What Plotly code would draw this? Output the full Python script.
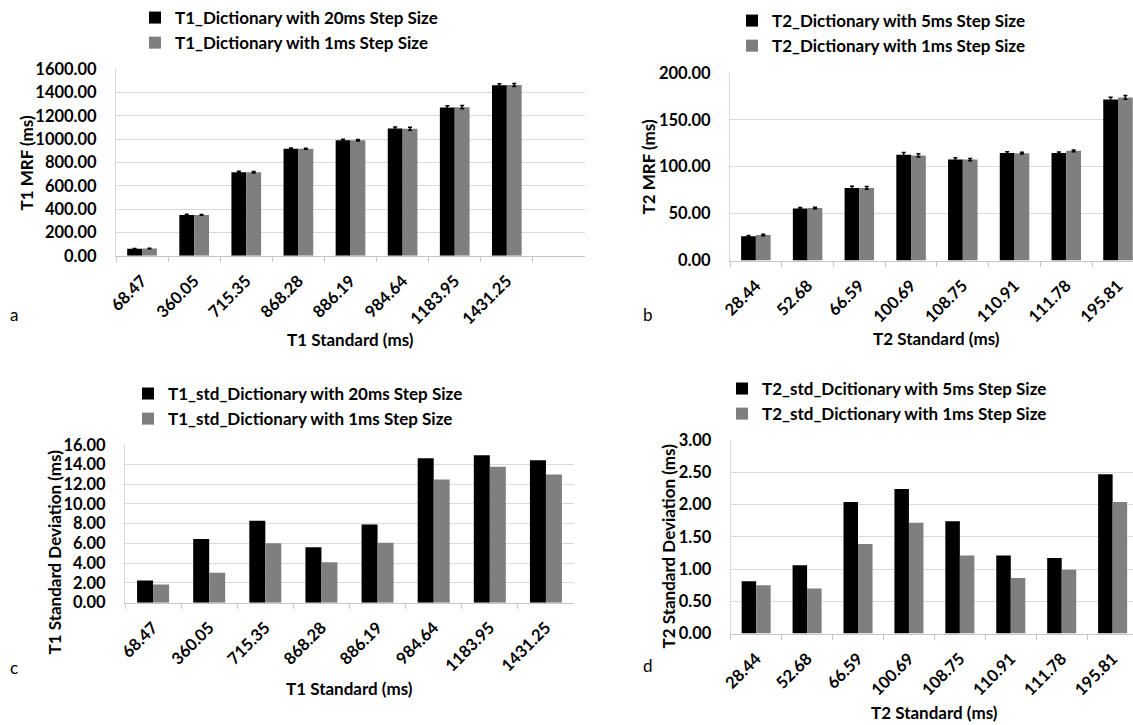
import plotly.graph_objects as go

W, H = 1133, 725

# ---- data ----
t1_std_labels = ["68.47", "360.05", "715.35", "868.28", "886.19", "984.64", "1183.95", "1431.25"]
t2_std_labels = ["28.44", "52.68", "66.59", "100.69", "108.75", "110.91", "111.78", "195.81"]

t1_mrf_20ms = [60, 349, 716, 918, 990, 1090, 1272, 1461]
t1_mrf_1ms = [62, 350, 716, 918, 990, 1089, 1274, 1463]

t2_mrf_5ms = [25.9, 55.6, 77.2, 112.8, 107.7, 114.6, 114.6, 171.5]
t2_mrf_1ms = [27.2, 56.0, 77.4, 112.0, 107.6, 114.4, 116.9, 173.8]

t1_sd_20ms = [2.25, 6.46, 8.31, 5.62, 7.93, 14.64, 14.95, 14.44]
t1_sd_1ms = [1.85, 3.03, 6.02, 4.10, 6.07, 12.49, 13.77, 12.99]

t2_sd_5ms = [0.81, 1.06, 2.04, 2.24, 1.74, 1.21, 1.17, 2.47]
t2_sd_1ms = [0.75, 0.70, 1.39, 1.72, 1.21, 0.86, 0.99, 2.04]

BLACK = "#000000"
GRAY = "#7f7f7f"
GRID = "#d9d9d9"
AXIS = "#c6c6c6"
FONT = "Lato"
TICK_SIZE = 16.5
TEXT_SIZE = 17


def px(x):
    return x / W


def py(y):
    return 1 - y / H


fig = go.Figure()


def add_pair(xa, ya, leg, cats, v1, e1, n1, v2, e2, n2):
    fig.add_trace(go.Bar(x=cats, y=v1, name=n1, marker=dict(color=BLACK, line=dict(width=0)),
                         error_y=dict(type="data", array=e1, color="black", thickness=1.5, width=2) if e1 else None,
                         xaxis=xa, yaxis=ya, legend=leg, legendgroup=leg + "1"))
    fig.add_trace(go.Bar(x=cats, y=v2, name=n2, marker=dict(color=GRAY, line=dict(width=0)),
                         error_y=dict(type="data", array=e2, color="black", thickness=1.5, width=2) if e2 else None,
                         xaxis=xa, yaxis=ya, legend=leg, legendgroup=leg + "2"))


add_pair("x", "y", "legend", t1_std_labels, t1_mrf_20ms, t1_sd_20ms, "T1_Dictionary with 20ms Step Size",
         t1_mrf_1ms, t1_sd_1ms, "T1_Dictionary with 1ms Step Size")
add_pair("x2", "y2", "legend2", t2_std_labels, t2_mrf_5ms, t2_sd_5ms, "T2_Dictionary with 5ms Step Size",
         t2_mrf_1ms, t2_sd_1ms, "T2_Dictionary with 1ms Step Size")
add_pair("x3", "y3", "legend3", t1_std_labels, t1_sd_20ms, None, "T1_std_Dictionary with 20ms Step Size",
         t1_sd_1ms, None, "T1_std_Dictionary with 1ms Step Size")
add_pair("x4", "y4", "legend4", t2_std_labels, t2_sd_5ms, None, "T2_std_Dcitionary with 5ms Step Size",
         t2_sd_1ms, None, "T2_std_Dictionary with 1ms Step Size")

tickfont = dict(family=FONT, size=TICK_SIZE, color="black", weight="bold")


def xaxis(x0, x1, anchor, rng, cats):
    return dict(domain=[px(x0), min(1, px(x1))], anchor=anchor, type="category",
                categoryorder="array", categoryarray=cats, range=rng, automargin=False,
                tickson="boundaries", ticks="outside", ticklen=5, tickcolor=AXIS,
                showline=True, linecolor=AXIS, linewidth=1, showgrid=False,
                ticklabelstandoff=8,
                tickangle=-45, tickfont=tickfont, fixedrange=True)


def yaxis(y0, y1, anchor, rng, dtick):
    return dict(domain=[py(y0), py(y1)], anchor=anchor, range=rng, dtick=dtick, automargin=False,
                tickformat=".2f", showgrid=True, gridcolor=GRID, gridwidth=1,
                showline=True, linecolor=GRID, linewidth=1, zeroline=False,
                ticks="", ticklabelstandoff=15, tickfont=tickfont, fixedrange=True)


fig.update_layout(
    xaxis=xaxis(116, 585, "y", [-0.5, 8.5], t1_std_labels + [" "]),
    yaxis=yaxis(254.5, 67.3, "x", [0, 1600], 200),
    xaxis2=xaxis(730, 1144, "y2", [-0.5, 7.29], t2_std_labels),
    yaxis2=yaxis(259.3, 71, "x2", [0, 200], 50),
    xaxis3=xaxis(125, 574, "y3", [-0.5, 7.5], t1_std_labels),
    yaxis3=yaxis(602.3, 444, "x3", [0, 16], 2),
    xaxis4=xaxis(730.7, 1138, "y4", [-0.5, 7.40], t2_std_labels),
    yaxis4=yaxis(633.3, 439.3, "x4", [0, 3], 0.5),
)

legfont = dict(family=FONT, size=TEXT_SIZE, color="black", weight="bold")


def legend(xl, ytop):
    return dict(x=px(xl), y=py(ytop), xanchor="left", yanchor="top", orientation="v",
                font=legfont, bgcolor="rgba(0,0,0,0)", borderwidth=0,
                tracegroupgap=5, itemwidth=30, traceorder="normal")


fig.update_layout(
    legend=legend(135, -2),
    legend2=legend(732, 1),
    legend3=legend(128, 375),
    legend4=legend(722, 370),
)

ann = []


def text(x, y, s, angle=0, bold=True):
    ann.append(dict(x=px(x), y=py(y), xref="paper", yref="paper", text=s, showarrow=False,
                    textangle=angle, xanchor="center", yanchor="middle",
                    font=dict(family=FONT, size=TEXT_SIZE, color="black", weight="bold" if bold else "normal")))


text(27, 162, "T1 MRF (ms)", -90)
text(649, 166, "T2 MRF (ms)", -90)
text(54, 552, "T1 Standard Deviation (ms)", -90)
text(668, 546, "T2 Standard Deviation (ms)", -90)
text(350, 338, "T1 Standard (ms)")
text(937, 337, "T2 Standard (ms)")
text(349, 688, "T1 Standard (ms)")
text(934, 712, "T2 Standard (ms)")
text(14, 313, "a", bold=False)
text(648, 313, "b", bold=False)
text(14, 667, "c", bold=False)
text(648, 665, "d", bold=False)

fig.update_layout(
    annotations=ann,
    width=W, height=H, autosize=False,
    margin=dict(l=0, r=0, t=0, b=0, pad=0),
    paper_bgcolor="white", plot_bgcolor="white",
    barmode="group", bargap=0.43, bargroupgap=0,
    font=dict(family=FONT, size=TEXT_SIZE, color="black"),
)

fig.write_html("out.html", config={"displayModeBar": False},
               post_script="document.body.style.margin='0';document.body.style.overflow='hidden';")
